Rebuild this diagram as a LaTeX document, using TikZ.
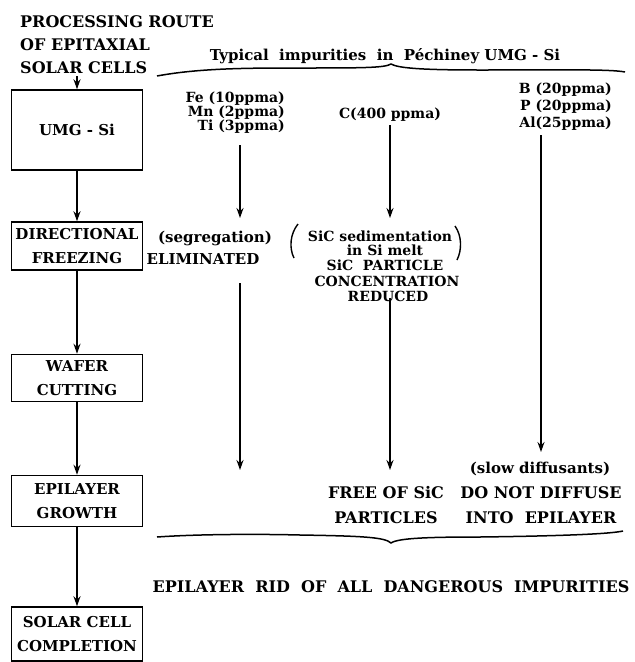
\documentclass[tikz,border=0pt]{standalone}
\usepackage{fontspec}
\setmainfont{DejaVu Serif}
\usetikzlibrary{arrows.meta}
\begin{document}
\begin{tikzpicture}[x=1pt,y=-1pt,
  big/.style={font=\bfseries\fontsize{16}{24}\selectfont, inner sep=0pt},
  small/.style={font=\bfseries\fontsize{14}{14}\selectfont, inner sep=0pt},
  mid/.style={font=\bfseries\fontsize{15}{15}\selectfont, inner sep=0pt},
  box/.style={draw, line width=1.5pt, minimum width=131pt, align=center,
    font=\bfseries\fontsize{15}{24}\selectfont, inner sep=0pt},
  flow/.style={-{Stealth[length=10pt,width=7pt]}, line width=1.4pt},
  plain/.style={line width=1.4pt},
  brace/.style={line width=1.5pt}]
\useasboundingbox (0,0) rectangle (635,662);

% title
\node[big, anchor=base west] (t1) at (20,27) {PROCESSING ROUTE};
\node[big, anchor=base west] (t2) at (20,50) {OF EPITAXIAL};
\node[big, anchor=base west] (t3) at (20,73) {SOLAR CELLS};
\node[mid, anchor=base] (typ) at (385,60) {Typical\ \ impurities\ \ in\ \ Péchiney UMG - Si};

% top brace
\draw[brace] (157,76) .. controls (200,68) and (250,68) .. (300,68)
  .. controls (360,68) and (385,68) .. (391,64)
  .. controls (398,68) and (420,70) .. (480,70)
  .. controls (560,70) and (610,69) .. (625,72);

% process boxes
\node[box, minimum height=80pt] (umg) at (77,130) {UMG - Si};
\node[box, minimum height=48pt] (dir) at (77,246) {DIRECTIONAL\\FREEZING};
\node[box, minimum height=47pt] (waf) at (77,378) {WAFER\\CUTTING};
\node[box, minimum height=51pt] (epi) at (77,501) {EPILAYER\\GROWTH};
\node[box, minimum height=54pt] (sol) at (77,634) {SOLAR CELL\\COMPLETION};

\draw[flow] (umg.north |- t3.south) ++(0,3) coordinate (ts) -- (umg.north);
\draw[flow] (umg) -- (dir);
\draw[flow] (dir) -- (waf);
\draw[flow] (waf) -- (epi);
\draw[flow] (epi) -- (sol);

% column 1
\node[small, anchor=base east] (fe) at (285,102) {Fe (10ppma)};
\node[small, anchor=base east] (mn) at (285,116) {Mn (2ppma)};
\node[small, anchor=base east] (ti) at (285,130) {Ti (3ppma)};
\node[mid, anchor=base] (seg) at (215,242) {(segregation)};
\node[mid, anchor=base] (elim) at (203,264) {ELIMINATED};
\coordinate (c1a) at (240,145);
\coordinate (c1b) at (240,218);
\coordinate (c1c) at (240,283);
\coordinate (c1d) at (240,470);
\draw[flow] (c1a) -- (c1b);
\draw[flow] (c1c) -- (c1d);

% column 2
\node[small, anchor=base] (c) at (390,118) {C(400 ppma)};
\node[small, anchor=base] (sed) at (380,241) {SiC sedimentation};
\node[small, anchor=base] (melt) at (385,255) {in Si melt};
\node[small, anchor=base] (sp) at (385,270) {SiC\ \ PARTICLE};
\node[small, anchor=base] (conc) at (387,286) {CONCENTRATION};
\node[small, anchor=base] (red) at (388,301) {REDUCED};
\draw[plain] (298,224) .. controls (290,234) and (289,248) .. (294,258);
\draw[plain] (455,226) .. controls (462,236) and (462,250) .. (457,260);
\draw[flow] (c.south) ++(0,4) coordinate (c2a) -- (390,218) coordinate (c2b);
\coordinate (c2c) at (390,298);
\coordinate (c2d) at (390,470);
\draw[flow] (c2c) -- (c2d);
\node[big, anchor=base] (free) at (386,498) {FREE OF SiC};
\node[big, anchor=base] (part) at (386,523) {PARTICLES};

% column 3
\node[small, anchor=base east] (b) at (612,93) {B (20ppma)};
\node[small, anchor=base east] (p) at (612,110) {P (20ppma)};
\node[small, anchor=base east] (al) at (612,127) {Al(25ppma)};
\coordinate (c3a) at (541,135);
\coordinate (c3b) at (541,452);
\draw[flow] (c3a) -- (c3b);
\node[mid, anchor=base] (slow) at (540,473) {(slow diffusants)};
\node[big, anchor=base] (dont) at (541,498) {DO NOT DIFFUSE};
\node[big, anchor=base] (into) at (541,523) {INTO\ \ EPILAYER};

% bottom brace
\draw[brace] (157,537) .. controls (200,534) and (260,534) .. (300,535)
  .. controls (360,536) and (385,537) .. (391,543)
  .. controls (398,538) and (430,537) .. (480,537)
  .. controls (560,536) and (610,534) .. (623,531);

\node[big, anchor=base] (rid) at (391,592) {EPILAYER\ \ RID\ \ OF\ \ ALL\ \ DANGEROUS\ \ IMPURITIES};
\end{tikzpicture}
\end{document}
